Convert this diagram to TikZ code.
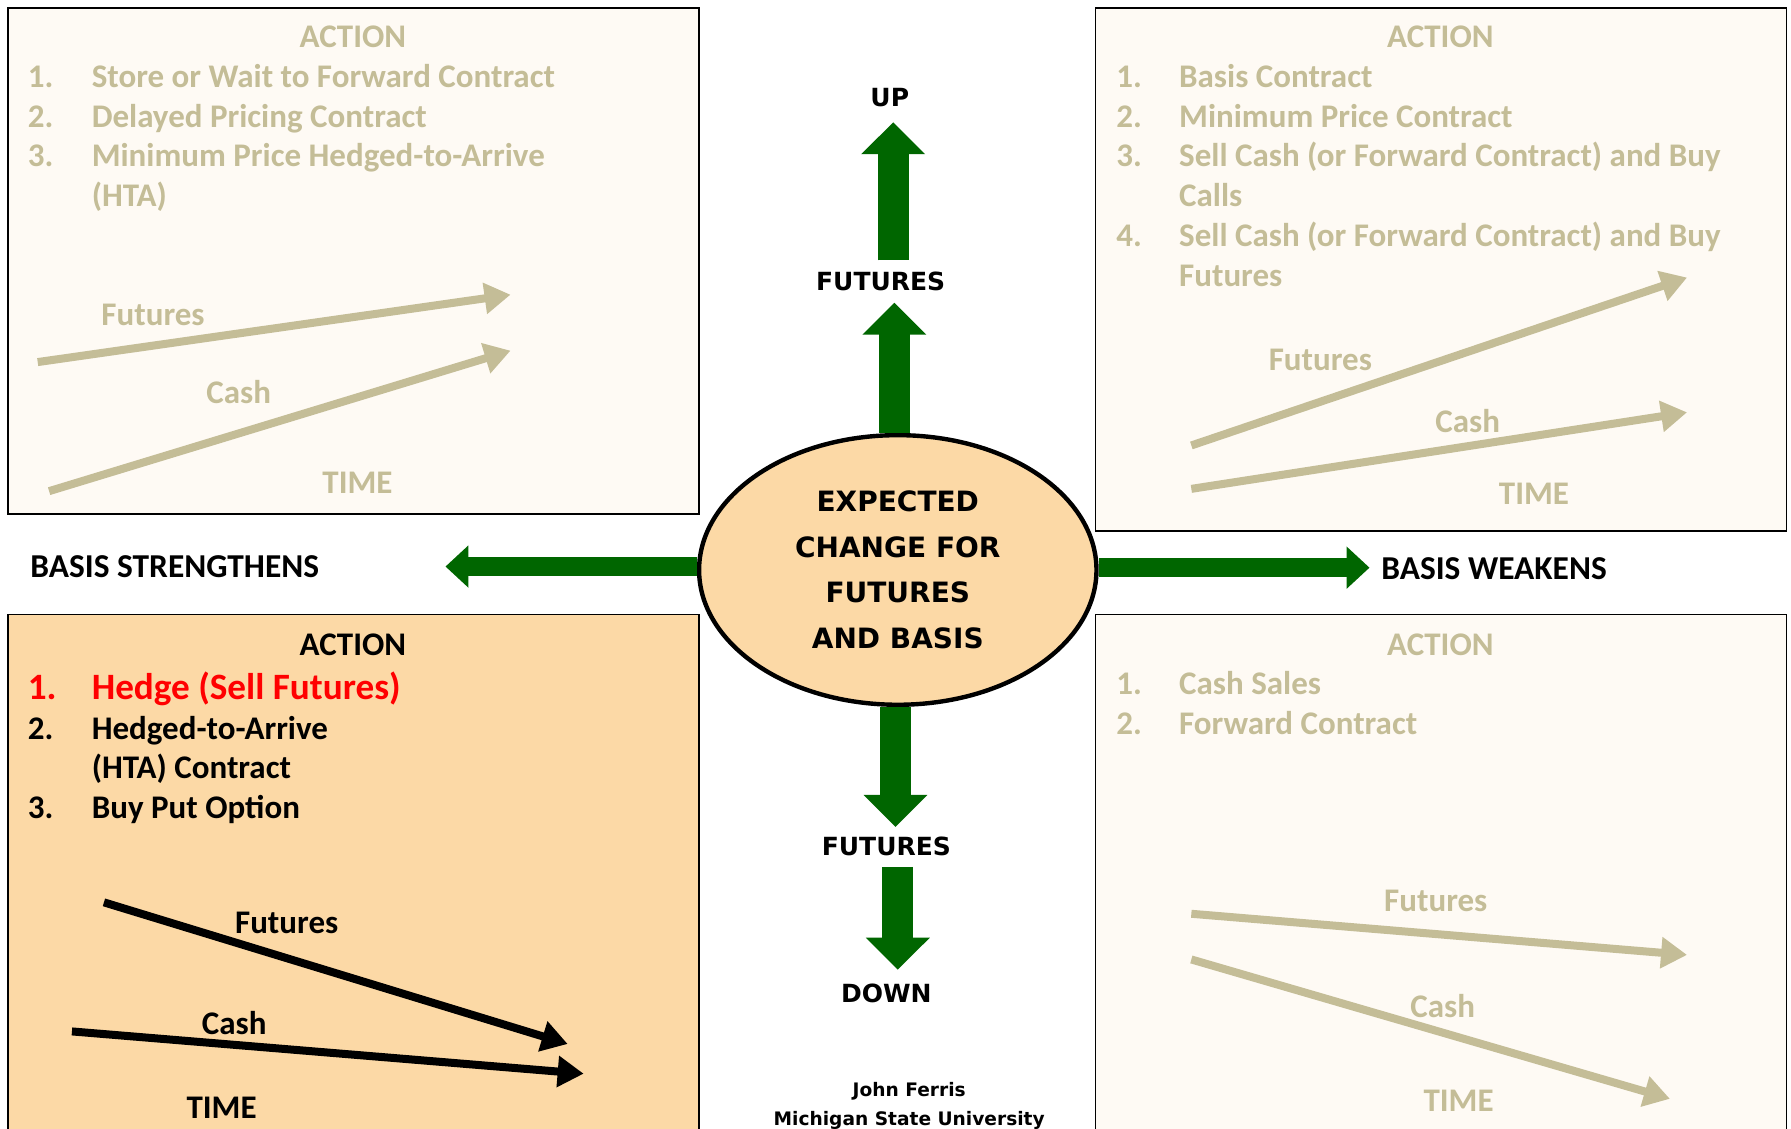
\documentclass[tikz,border=0pt]{standalone}
\usepackage{fontspec}
\setmainfont{Carlito}
\newfontfamily\wide{DejaVu Sans}
\usetikzlibrary{arrows.meta,shapes.geometric}
\definecolor{tan}{HTML}{C4BD97}
\definecolor{cream}{HTML}{FEFAF4}
\definecolor{peach}{HTML}{FCD9A6}
\definecolor{leaf}{HTML}{006600}
\definecolor{hot}{HTML}{FF0000}
\begin{document}
\begin{tikzpicture}[x=0.5711pt,y=-0.5711pt,
  panel/.style={draw=black,line width=0.9pt},
  body/.style={font=\fontsize{16.5}{20}\selectfont\bfseries,inner sep=0pt,anchor=base west},
  lbl/.style={font=\fontsize{16.5}{20}\selectfont\bfseries,inner sep=0pt,anchor=base},
  trend/.style={line width=4pt,-{Triangle[length=13pt,width=15pt]}},
  bigtxt/.style={font=\wide\fontsize{12.5}{15}\selectfont\bfseries,inner sep=0pt,anchor=base},
  vgreen/.style={leaf,line width=15.4pt,-{Triangle[length=16pt,width=31pt]}},
  hgreen/.style={leaf,line width=9.2pt,-{Triangle[length=11.5pt,width=20.5pt]}},
]
\clip (0,0) rectangle (1568,988);
\fill[white] (0,0) rectangle (1568,988);

% ---------- upper left panel ----------
\draw[panel,fill=cream] (7,7) rectangle (612,450);
\node[lbl,tan] (tlh) at (309,42) {ACTION};
\node[body,tan] (tln1) at (24,77) {1.};
\node[body,tan] (tl1) at (80,77) {Store or Wait to Forward Contract};
\node[body,tan] (tln2) at (24,112) {2.};
\node[body,tan] (tl2) at (80,112) {Delayed Pricing Contract};
\node[body,tan] (tln3) at (24,146) {3.};
\node[body,tan] (tl3) at (80,146) {Minimum Price Hedged-to-Arrive};
\node[body,tan] (tl3b) at (80,181) {(HTA)};
\coordinate (tlfa) at (33,317); \coordinate (tlfb) at (447,258);
\coordinate (tlca) at (43,430); \coordinate (tlcb) at (447,307);
\draw[trend,tan] (tlfa) -- (tlfb);
\draw[trend,tan] (tlca) -- (tlcb);
\node[lbl,tan] (tlf) at (134,285) {Futures};
\node[lbl,tan] (tlc) at (209,353) {Cash};
\node[lbl,tan] (tlt) at (313,432) {TIME};

% ---------- upper right panel ----------
\draw[panel,fill=cream] (959,7) rectangle (1564,465);
\node[lbl,tan] (trh) at (1261,42) {ACTION};
\node[body,tan] (trn1) at (977,77) {1.};
\node[body,tan] (tr1) at (1032,77) {Basis Contract};
\node[body,tan] (trn2) at (977,112) {2.};
\node[body,tan] (tr2) at (1032,112) {Minimum Price Contract};
\node[body,tan] (trn3) at (977,146) {3.};
\node[body,tan] (tr3) at (1032,146) {Sell Cash (or Forward Contract) and Buy};
\node[body,tan] (tr3b) at (1032,181) {Calls};
\node[body,tan] (trn4) at (977,216) {4.};
\node[body,tan] (tr4) at (1032,216) {Sell Cash (or Forward Contract) and Buy};
\node[body,tan] (tr4b) at (1032,251) {Futures};
\coordinate (trfa) at (1043,390); \coordinate (trfb) at (1477,243);
\coordinate (trca) at (1043,428); \coordinate (trcb) at (1477,361);
\draw[trend,tan] (trfa) -- (trfb);
\draw[trend,tan] (trca) -- (trcb);
\node[lbl,tan] (trf) at (1156,324) {Futures};
\node[lbl,tan] (trc) at (1285,379) {Cash};
\node[lbl,tan] (trt) at (1343,442) {TIME};

% ---------- lower left panel ----------
\draw[panel,fill=peach] (7,538) rectangle (612,1010);
\node[lbl] (blh) at (309,574) {ACTION};
\node[body,hot,font=\fontsize{18.6}{22}\selectfont\bfseries] (bln1) at (24,612) {1.};
\node[body,hot,font=\fontsize{18.6}{22}\selectfont\bfseries] (bl1) at (80,612) {Hedge (Sell Futures)};
\node[body] (bln2) at (24,647) {2.};
\node[body] (bl2) at (80,647) {Hedged-to-Arrive};
\node[body] (bl2b) at (80,682) {(HTA) Contract};
\node[body] (bln3) at (24,717) {3.};
\node[body] (bl3) at (80,717) {Buy Put Option};
\coordinate (blfa) at (91,790); \coordinate (blfb) at (497,914);
\coordinate (blca) at (63,903); \coordinate (blcb) at (511,940);
\draw[trend,black] (blfa) -- (blfb);
\draw[trend,black] (blca) -- (blcb);
\node[lbl] (blf) at (251,817) {Futures};
\node[lbl] (blc) at (205,906) {Cash};
\node[lbl] (blt) at (194,979) {TIME};

% ---------- lower right panel ----------
\draw[panel,fill=cream] (959,538) rectangle (1564,1010);
\node[lbl,tan] (brh) at (1261,574) {ACTION};
\node[body,tan] (brn1) at (977,608) {1.};
\node[body,tan] (br1) at (1032,608) {Cash Sales};
\node[body,tan] (brn2) at (977,643) {2.};
\node[body,tan] (br2) at (1032,643) {Forward Contract};
\coordinate (brfa) at (1043,800); \coordinate (brfb) at (1477,836);
\coordinate (brca) at (1043,840); \coordinate (brcb) at (1462,962);
\draw[trend,tan] (brfa) -- (brfb);
\draw[trend,tan] (brca) -- (brcb);
\node[lbl,tan] (brf) at (1257,798) {Futures};
\node[lbl,tan] (brc) at (1263,891) {Cash};
\node[lbl,tan] (brt) at (1277,973) {TIME};

% ---------- centre ----------
\node[ellipse,draw=black,line width=2.2pt,fill=peach,minimum width=198.7pt,
      minimum height=134.8pt,inner sep=0pt,align=center,
      font=\wide\fontsize{14}{22.8}\selectfont\bfseries] (ell) at (786,499)
      {EXPECTED\\CHANGE FOR\\FUTURES\\AND BASIS};

\node[bigtxt] (up) at (779,93) {UP};
\node[bigtxt] (futup) at (771,254) {FUTURES};
\node[bigtxt] (futdn) at (776,749) {FUTURES};
\node[bigtxt] (down) at (776,878) {DOWN};

\coordinate (u1) at (783,265);
\coordinate (u2a) at (782,228); \coordinate (u2b) at (782,107);
\coordinate (d1) at (784,724);
\coordinate (d2a) at (786,759); \coordinate (d2b) at (786,849);
\coordinate (lt) at (390,496);
\coordinate (rt) at (1199,497);

\draw[vgreen] (ell.north -| u1) -- (u1);
\draw[vgreen] (u2a) -- (u2b);
\draw[vgreen] (ell.south -| d1) -- (d1);
\draw[vgreen] (d2a) -- (d2b);
\draw[hgreen] (ell.west |- lt) -- (lt);
\draw[hgreen] (ell.east |- rt) -- (rt);

\node[lbl,font=\fontsize{16.7}{20}\selectfont\bfseries] (strong) at (153,506) {BASIS STRENGTHENS};
\node[lbl,font=\fontsize{16.7}{20}\selectfont\bfseries] (weak) at (1308,507) {BASIS WEAKENS};

\node[font=\wide\fontsize{9.3}{11}\selectfont\bfseries,inner sep=0pt,anchor=base] (auth) at (796,960) {John Ferris};
\node[font=\wide\fontsize{9.3}{11}\selectfont\bfseries,inner sep=0pt,anchor=base] (univ) at (796,985) {Michigan State University};
\end{tikzpicture}
\end{document}
